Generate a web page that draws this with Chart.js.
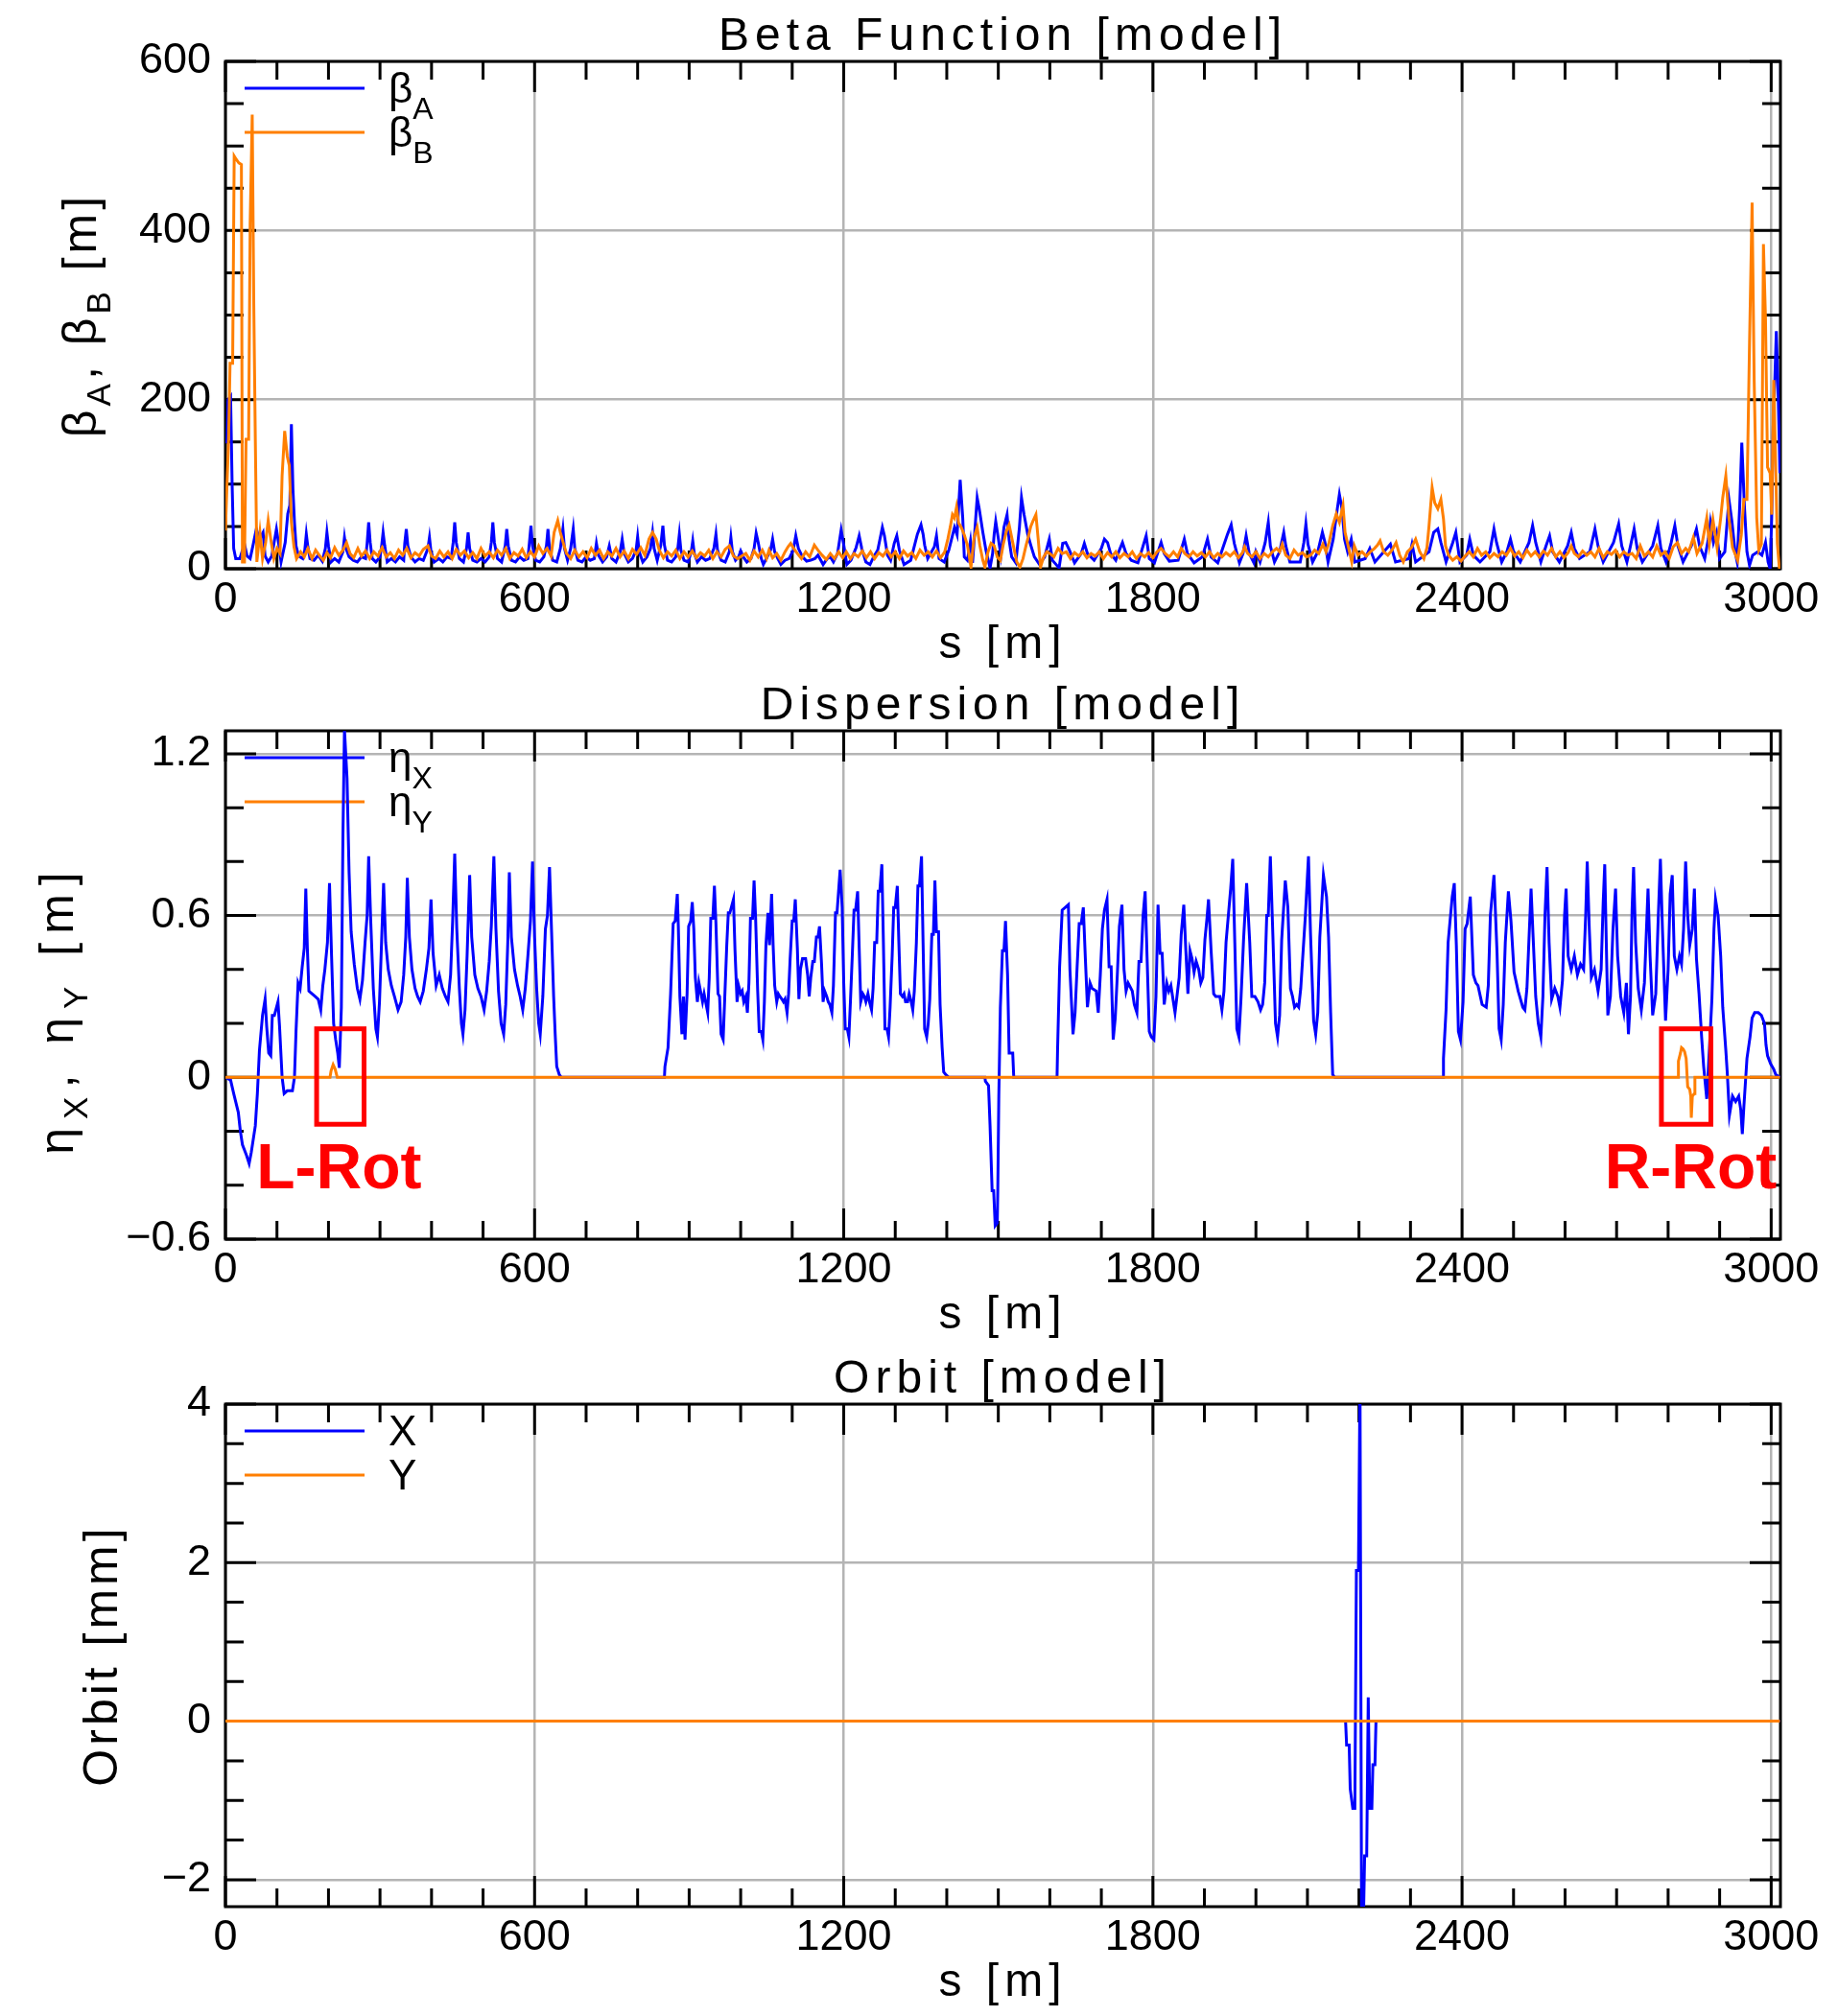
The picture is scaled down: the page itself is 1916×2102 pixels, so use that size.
<!DOCTYPE html>
<html>
<head>
<meta charset="utf-8">
<title>Beta Function / Dispersion / Orbit</title>
<script src="https://cdn.jsdelivr.net/npm/chart.js@4.4.1/dist/chart.umd.min.js"></script>
<style>
  html, body { margin: 0; padding: 0; background: #fff; }
  canvas { display: block; }
</style>
</head>
<body>
<canvas id="beta" width="1916" height="700"></canvas>
<canvas id="disp" width="1916" height="701"></canvas>
<canvas id="orbit" width="1916" height="701"></canvas>
<script>
// ---- axis ticks ----
const S_MAX = 3018;
const sTicks = [0, 600, 1200, 1800, 2400, 3000];
const betaTicks = [0, 200, 400, 600];
const etaTicks = [-0.6, 0, 0.6, 1.2];
const orbitTicks = [-2, 0, 2, 4];

// ---- beta functions [s (m), beta (m)] ----
const betaA = [
  [0,150],[3,150],[5,200],[10,204],[13,100],[16,24],[20,12],[28,12],[32,20],[37,29],[42,15],[48,12],[54,29],[60,47],[66,35],[73,43],[77,15],[83,8],[90,15],[99,47],[104,27],[108,8],[116,31],[121,65],[125,75],[128,171],[131,94],[134,55],[137,27],[142,15],
  [150,12],[154,22],[157,41],[160,26],[164,12],[172,10],[180,16],[188,9],[194,24],[197,43],[200,27],[205,8],[212,12],[220,8],[228,20],[231,37],[234,24],[240,14],[248,10],[256,8],[264,14],[272,12],[275,30],[278,55],[281,31],[285,12],[292,8],[300,14],[303,26],[306,43],[309,28],[314,8],[322,12],[330,8],[338,14],[346,10],[348,30],[351,47],[354,27],[360,14],[368,8],[376,12],[384,10],[393,24],[396,37],[399,20],[405,8],[414,12],[422,8],[430,14],[438,12],[442,31],[445,55],[448,31],[454,12],[462,8],[468,24],[471,43],[474,24],[480,10],[488,8],[496,12],[504,8],[512,14],[516,31],[519,55],[522,31],[528,12],[536,8],[543,27],[546,47],[549,27],[555,10],[563,8],[571,14],[579,10],[587,12],[590,31],[593,51],[596,27],[602,10],[610,8],[618,14],[623,27],[626,47],[629,24],[635,10],[643,8],[650,24],[655,47],[658,24],[664,10],[670,24],[675,47],[678,24],[684,10],[692,8],[700,14],[708,10],[716,12],[720,30],[724,16],[732,8],[740,14],[745,27],[750,12],[758,8],[766,20],[770,35],[774,18],[782,8],[790,12],[797,22],[800,38],[803,20],[810,8],[818,14],[825,24],[829,43],[832,24],[838,10],[845,28],[849,51],[852,28],[858,10],[866,8],[874,14],[878,24],[881,41],[884,22],[890,10],[898,8],[904,20],[907,33],[910,18],[916,8],[924,14],[932,10],[940,12],[948,24],[952,41],[955,22],[962,10],[970,8],[978,20],[981,37],[984,20],[990,10],[996,14],
  [1000,21],[1005,14],[1012,8],[1020,12],[1026,24],[1030,42],[1034,31],[1040,12],[1044,5],[1050,12],[1058,22],[1062,35],[1066,20],[1072,12],[1078,5],[1086,10],[1094,12],[1102,22],[1107,39],[1112,24],[1120,14],[1128,9],[1136,10],[1144,12],[1150,16],[1160,5],[1168,12],[1174,14],[1180,8],[1188,18],[1195,46],[1199,32],[1206,5],[1214,10],[1224,25],[1230,39],[1235,24],[1243,8],[1251,5],[1258,14],[1266,22],[1275,49],[1279,39],[1285,16],[1291,10],[1298,30],[1303,39],[1308,22],[1317,5],[1330,10],[1343,41],[1350,52],[1354,41],[1357,28],[1363,12],[1376,26],[1380,39],[1385,12],[1395,8],[1404,22],[1415,49],[1420,40],[1426,105],[1431,60],[1434,14],[1440,10],[1446,33],[1450,7],[1459,84],[1463,71],[1470,43],[1476,22],[1484,1],[1489,18],[1492,41],[1495,56],[1505,16],[1511,49],[1517,64],[1521,34],[1526,14],[1534,7],[1541,49],[1545,84],[1550,64],[1557,41],[1563,28],[1570,14],[1580,5],[1590,14],[1599,35],[1605,10],[1618,1],[1625,30],[1631,31],[1638,22],[1648,7],[1661,18],[1667,30],[1673,18],[1686,10],[1700,24],[1706,35],[1712,31],[1718,18],[1728,10],[1735,22],[1741,31],[1748,18],[1758,10],[1771,7],[1781,27],[1787,39],[1793,12],[1803,7],[1810,20],[1816,31],[1822,18],[1832,9],[1849,10],[1861,35],[1867,18],[1880,7],[1896,14],[1906,35],[1913,14],[1926,7],[1945,41],[1952,52],[1958,30],[1968,7],[1975,18],[1981,39],[1987,18],[1996,7],
  [2000,20],[2008,8],[2018,31],[2024,55],[2028,27],[2036,8],[2046,20],[2054,43],[2058,27],[2066,8],[2086,8],[2093,31],[2097,53],[2101,29],[2110,8],[2120,20],[2129,43],[2134,31],[2140,8],[2150,35],[2158,71],[2162,88],[2167,71],[2172,35],[2178,20],[2185,35],[2192,8],[2212,12],[2221,24],[2231,8],[2254,24],[2261,29],[2271,8],[2297,12],[2303,29],[2310,8],[2336,20],[2345,43],[2353,47],[2359,31],[2369,8],[2382,31],[2388,43],[2396,8],[2409,16],[2415,35],[2422,16],[2435,8],[2454,20],[2462,47],[2467,31],[2477,8],[2487,20],[2494,35],[2500,20],[2513,8],[2530,31],[2537,51],[2543,31],[2553,8],[2563,27],[2570,39],[2576,20],[2589,8],[2605,27],[2612,43],[2618,24],[2628,12],[2648,20],[2658,47],[2664,27],[2674,8],[2694,31],[2704,53],[2710,27],[2720,8],[2727,27],[2734,47],[2740,24],[2750,8],[2770,27],[2780,51],[2786,24],[2796,8],[2806,31],[2813,51],[2819,27],[2829,8],[2845,27],[2855,47],[2861,27],[2871,12],[2878,35],[2882,55],[2888,31],[2894,43],[2900,12],[2910,20],[2918,82],[2924,55],[2930,20],[2934,8],[2939,75],[2943,149],[2948,75],[2953,20],[2958,4],[2964,16],[2974,20],[2982,16],[2989,31],[2994,8],[2998,0],[3001,60],[3004,170],[3007,221],[3010,281],[3013,221],[3015,170],[3017,113]
];

const betaB = [
  [0,45],[3,100],[6,150],[9,243],[14,243],[17,488],[21,484],[26,480],[31,478],[33,8],[37,8],[40,153],[45,153],[48,408],[52,537],[55,314],[58,153],[61,8],[67,43],[72,12],[78,31],[83,57],[88,35],[94,12],[100,24],[106,18],[110,110],[115,163],[120,133],[124,122],[128,55],[133,26],[138,12],
  [146,20],[153,14],[160,24],[168,12],[175,22],[182,16],[190,10],[197,19],[204,13],[212,25],[220,16],[228,22],[235,31],[242,18],[249,13],[257,24],[264,15],[272,21],[280,12],[288,20],[296,15],[304,25],[312,14],[320,19],[328,12],[336,22],[344,16],[352,24],[360,13],[368,19],[376,15],[384,23],[393,27],[400,15],[408,12],[416,21],[424,14],[432,20],[440,12],[448,23],[456,16],[464,21],[472,13],[480,19],[488,12],[496,24],[504,15],[512,20],[520,13],[528,22],[536,16],[544,24],[552,12],[560,19],[568,15],[576,23],[584,13],[592,20],[600,14],[608,27],[616,18],[624,24],[632,15],[638,43],[645,57],[650,43],[656,30],[662,18],[670,12],[678,22],[686,14],[694,20],[702,13],[710,24],[718,16],[726,22],[734,12],[742,20],[750,15],[758,24],[766,14],[774,21],[782,12],[790,23],[798,17],[806,25],[814,16],[822,35],[829,43],[836,35],[842,22],[850,13],[858,20],[866,15],[874,22],[882,12],[890,20],[898,14],[906,21],[914,13],[922,19],[930,15],[938,22],[946,12],[954,20],[962,14],[970,23],[978,27],[986,15],[994,12],
  [1002,15],[1010,18],[1018,10],[1026,21],[1034,14],[1042,22],[1050,12],[1055,22],[1062,13],[1070,18],[1078,10],[1086,20],[1092,26],[1097,30],[1103,24],[1110,18],[1118,12],[1126,20],[1134,14],[1143,28],[1150,22],[1158,16],[1166,11],[1174,18],[1182,12],[1190,20],[1198,13],[1205,20],[1213,12],[1220,18],[1228,14],[1236,21],[1244,13],[1252,20],[1260,12],[1268,19],[1276,15],[1284,22],[1292,14],[1300,20],[1308,12],[1316,21],[1324,15],[1332,19],[1340,12],[1348,22],[1356,16],[1364,20],[1372,14],[1380,21],[1388,13],[1396,20],[1402,35],[1407,50],[1411,64],[1415,60],[1419,73],[1423,54],[1428,49],[1434,40],[1440,28],[1447,2],[1453,37],[1459,49],[1464,28],[1470,10],[1474,2],[1480,20],[1486,30],[1492,27],[1498,14],[1504,10],[1510,30],[1516,45],[1521,52],[1526,37],[1531,22],[1536,8],[1542,2],[1548,12],[1554,28],[1558,37],[1563,50],[1567,56],[1573,64],[1578,31],[1582,2],[1588,14],[1594,20],[1600,18],[1608,14],[1616,24],[1624,18],[1632,20],[1640,12],[1648,19],[1656,15],[1664,20],[1672,13],[1680,18],[1688,15],[1696,20],[1704,12],[1712,19],[1720,14],[1728,20],[1736,13],[1744,18],[1752,14],[1760,20],[1768,12],[1776,18],[1784,14],[1792,19],[1800,13],[1808,20],[1816,24],[1824,18],[1832,14],[1840,20],[1848,14],[1855,24],[1862,18],[1870,14],[1878,20],[1886,15],[1894,19],[1902,14],[1910,20],[1918,13],[1926,18],[1934,14],[1942,19],[1950,15],[1958,20],[1966,13],[1974,19],[1978,26],[1984,18],[1992,14],
  [2000,20],[2008,12],[2016,18],[2024,14],[2032,20],[2040,24],[2046,20],[2051,29],[2058,16],[2066,12],[2074,22],[2082,16],[2090,19],[2098,14],[2106,16],[2114,22],[2122,18],[2130,29],[2136,20],[2142,31],[2149,51],[2156,65],[2162,55],[2169,75],[2173,43],[2179,27],[2186,8],[2191,27],[2198,16],[2206,20],[2214,15],[2222,20],[2230,24],[2236,28],[2241,33],[2248,20],[2256,16],[2264,22],[2272,31],[2279,16],[2286,8],[2294,20],[2302,25],[2310,35],[2318,20],[2326,12],[2332,25],[2336,51],[2342,96],[2347,78],[2353,71],[2359,82],[2364,59],[2368,27],[2374,16],[2382,10],[2390,14],[2398,9],[2406,15],[2414,20],[2422,14],[2430,24],[2438,16],[2446,20],[2454,13],[2462,18],[2470,14],[2478,20],[2486,16],[2494,24],[2502,15],[2510,20],[2518,13],[2526,22],[2534,15],[2542,20],[2550,14],[2558,21],[2566,16],[2574,24],[2582,14],[2590,20],[2598,13],[2606,19],[2612,27],[2618,18],[2626,14],[2634,21],[2642,16],[2650,20],[2658,14],[2666,24],[2674,13],[2682,20],[2690,17],[2698,22],[2706,14],[2714,20],[2722,16],[2730,18],[2738,12],[2746,27],[2754,15],[2762,20],[2770,14],[2778,27],[2786,16],[2794,20],[2802,12],[2810,26],[2818,31],[2826,18],[2834,24],[2840,20],[2849,37],[2856,18],[2866,30],[2875,60],[2880,29],[2887,58],[2895,25],[2902,60],[2906,84],[2912,110],[2918,60],[2925,25],[2935,10],[2942,40],[2947,82],[2953,82],[2958,267],[2963,433],[2967,223],[2972,60],[2976,22],[2981,29],[2985,384],[2989,295],[2993,120],[2998,113],[3001,64],[3005,223],[3009,113],[3012,30],[3016,0]
];

// ---- dispersion [s (m), eta (m)] ----
const etaX = [
  [0,0],[10,-0.01],[16,-0.06],[25,-0.13],[29,-0.20],[33,-0.25],[41,-0.29],[46,-0.32],[50,-0.28],[58,-0.18],[62,-0.06],[66,0.10],[72,0.23],[77,0.29],[80,0.19],[84,0.09],[88,0.08],[91,0.23],[95,0.23],[102,0.28],[105,0.19],[110,0],[114,-0.06],[120,-0.05],[130,-0.05],[134,0],[137,0.17],[141,0.35],[145,0.33],[149,0.41],[153,0.48],[156,0.70],[159,0.48],[162,0.32],[168,0.31],[174,0.30],[180,0.29],[185,0.25],[189,0.34],[193,0.40],[198,0.50],[202,0.72],[206,0.45],[210,0.20],[214,0.14],[218,0.09],[221,0.035],[225,0.26],[228,0.89],[231,1.29],[236,1.11],[240,0.76],[244,0.54],[250,0.42],[256,0.33],[261,0.29],[266,0.36],[271,0.50],[275,0.60],[278,0.82],[282,0.58],[287,0.33],[292,0.18],[295,0.15],[299,0.28],[303,0.50],[307,0.72],[311,0.50],[316,0.40],[322,0.34],[328,0.30],[335,0.25],[341,0.28],[346,0.38],[350,0.52],[353,0.74],[357,0.52],[362,0.40],[368,0.33],[373,0.30],[378,0.28],[384,0.32],[390,0.40],[395,0.48],[399,0.66],[403,0.46],[409,0.34],[415,0.38],[421,0.33],[427,0.30],[432,0.28],[437,0.38],[441,0.58],[445,0.83],[449,0.55],[454,0.33],[458,0.20],[461,0.16],[465,0.25],[469,0.45],[474,0.75],[478,0.52],[484,0.38],[490,0.33],[496,0.30],[502,0.25],[507,0.32],[512,0.43],[516,0.56],[521,0.82],[525,0.55],[530,0.32],[535,0.20],[540,0.16],[544,0.27],[548,0.50],[551,0.76],[555,0.52],[561,0.40],[567,0.34],[572,0.30],[577,0.25],[582,0.33],[587,0.45],[592,0.58],[596,0.80],[600,0.52],[604,0.33],[608,0.20],[611,0.16],[616,0.30],[621,0.55],[625,0.60],[629,0.78],[633,0.54],[637,0.30],[640,0.16],[643,0.04],[648,0.01],[652,0],
  [852,0],[853,0.04],[859,0.11],[864,0.31],[869,0.57],[873,0.58],[877,0.68],[879,0.56],[882,0.30],[886,0.16],[889,0.30],[892,0.14],[896,0.31],[899,0.56],[903,0.58],[906,0.65],[909,0.55],[912,0.37],[916,0.28],[919,0.35],[922,0.32],[926,0.28],[929,0.31],[932,0.28],[936,0.24],[939,0.37],[942,0.59],[946,0.59],[949,0.71],[952,0.57],[956,0.31],[959,0.30],[962,0.16],[966,0.14],[969,0.29],[973,0.49],[976,0.61],[979,0.61],[986,0.66],[989,0.47],[993,0.28],[996,0.34],[1000,0.31],[1003,0.32],[1006,0.28],[1010,0.30],[1013,0.24],[1016,0.35],[1019,0.59],[1023,0.59],[1026,0.73],[1029,0.59],[1033,0.32],[1036,0.17],[1040,0.17],[1043,0.14],[1046,0.28],[1049,0.49],[1053,0.61],[1056,0.49],[1060,0.68],[1063,0.49],[1066,0.34],[1070,0.28],[1073,0.31],[1076,0.30],[1080,0.29],[1083,0.28],[1086,0.29],[1090,0.24],[1093,0.31],[1096,0.44],[1100,0.58],[1103,0.58],[1106,0.66],[1110,0.48],[1113,0.29],[1116,0.40],[1120,0.44],[1123,0.44],[1126,0.44],[1130,0.38],[1133,0.30],[1136,0.37],[1140,0.43],[1143,0.43],[1147,0.52],[1150,0.52],[1153,0.56],[1157,0.42],[1160,0.28],[1163,0.32],[1167,0.30],[1170,0.28],[1173,0.27],[1177,0.24],[1180,0.34],[1184,0.61],[1187,0.61],[1193,0.77],[1197,0.63],[1200,0.35],[1203,0.18],[1207,0.18],[1210,0.15],[1213,0.28],[1217,0.47],[1220,0.62],[1223,0.62],[1227,0.69],[1230,0.48],[1233,0.28],[1237,0.31],[1240,0.30],[1243,0.28],[1247,0.31],[1250,0.28],[1254,0.25],[1257,0.33],[1260,0.50],[1264,0.50],[1267,0.69],[1270,0.69],[1274,0.79],[1277,0.50],[1280,0.18],[1284,0.18],[1287,0.15],[1290,0.26],[1294,0.45],[1297,0.63],[1300,0.63],[1304,0.71],[1307,0.50],[1310,0.31],[1314,0.30],[1317,0.31],[1320,0.28],[1324,0.28],[1327,0.31],[1331,0.28],[1334,0.25],[1337,0.32],[1341,0.50],[1344,0.71],[1347,0.71],[1351,0.82],[1354,0.50],[1357,0.18],[1361,0.15],[1364,0.20],[1367,0.29],[1371,0.53],[1374,0.53],[1377,0.73],[1380,0.54],[1384,0.54],[1387,0.27],[1391,0.11],[1394,0.02],[1398,0.01],[1404,0],
  [1474,0],[1475,-0.015],[1481,-0.03],[1484,-0.18],[1488,-0.42],[1491,-0.42],[1494,-0.55],[1498,-0.54],[1499,-0.42],[1501,-0.07],[1504,0.26],[1508,0.47],[1511,0.47],[1514,0.58],[1518,0.38],[1521,0.09],[1528,0.09],[1530,0],
  [1614,0],[1615,0.10],[1619,0.41],[1624,0.62],[1630,0.63],[1636,0.64],[1639,0.40],[1645,0.16],[1649,0.24],[1653,0.41],[1657,0.57],[1661,0.57],[1665,0.63],[1669,0.44],[1673,0.26],[1678,0.35],[1682,0.33],[1690,0.32],[1694,0.24],[1698,0.38],[1702,0.55],[1706,0.62],[1711,0.66],[1715,0.41],[1719,0.41],[1723,0.14],[1727,0.22],[1731,0.38],[1735,0.56],[1740,0.64],[1744,0.40],[1748,0.32],[1752,0.35],[1760,0.32],[1764,0.27],[1769,0.24],[1773,0.43],[1777,0.43],[1781,0.60],[1785,0.69],[1789,0.43],[1793,0.17],[1797,0.15],[1802,0.14],[1806,0.30],[1810,0.64],[1814,0.46],[1818,0.46],[1822,0.27],[1827,0.35],[1831,0.32],[1835,0.34],[1843,0.24],[1851,0.37],[1855,0.53],[1860,0.64],[1864,0.47],[1868,0.31],[1872,0.47],[1876,0.44],[1880,0.39],[1884,0.43],[1889,0.40],[1893,0.35],[1897,0.37],[1901,0.51],[1905,0.59],[1908,0.66],[1913,0.47],[1918,0.31],[1922,0.30],[1930,0.30],[1934,0.25],[1938,0.32],[1942,0.50],[1951,0.70],[1955,0.81],[1959,0.50],[1963,0.18],[1967,0.15],[1971,0.29],[1976,0.51],[1982,0.72],[1988,0.50],[1992,0.30],[1998,0.30],[2004,0.28],[2009,0.25],[2013,0.27],[2017,0.35],[2021,0.60],[2024,0.60],[2028,0.82],[2033,0.52],[2038,0.20],[2042,0.15],[2046,0.23],[2050,0.51],[2057,0.73],[2062,0.63],[2067,0.33],[2071,0.30],[2075,0.26],[2079,0.27],[2083,0.26],[2087,0.33],[2096,0.60],[2102,0.82],[2106,0.53],[2112,0.21],[2116,0.16],[2120,0.24],[2124,0.52],[2131,0.75],[2137,0.67],[2141,0.52],[2145,0.24],[2149,0.01],[2153,0],
  [2363,0],[2364,0.07],[2369,0.25],[2373,0.50],[2381,0.67],[2385,0.72],[2389,0.49],[2393,0.17],[2397,0.14],[2402,0.28],[2406,0.55],[2410,0.57],[2416,0.67],[2422,0.38],[2427,0.35],[2431,0.34],[2439,0.27],[2447,0.26],[2451,0.34],[2455,0.60],[2462,0.75],[2468,0.46],[2472,0.18],[2476,0.14],[2480,0.27],[2484,0.50],[2490,0.69],[2495,0.58],[2501,0.39],[2509,0.32],[2518,0.26],[2522,0.25],[2526,0.33],[2534,0.70],[2538,0.52],[2543,0.30],[2548,0.20],[2553,0.15],[2557,0.30],[2561,0.60],[2565,0.78],[2569,0.50],[2574,0.29],[2580,0.33],[2586,0.30],[2590,0.26],[2595,0.36],[2599,0.60],[2602,0.70],[2606,0.45],[2612,0.40],[2618,0.45],[2624,0.38],[2630,0.42],[2636,0.40],[2640,0.60],[2643,0.80],[2647,0.55],[2651,0.37],[2657,0.40],[2664,0.32],[2670,0.40],[2674,0.65],[2677,0.79],[2680,0.50],[2683,0.23],[2688,0.30],[2693,0.55],[2698,0.70],[2702,0.45],[2708,0.30],[2714,0.24],[2719,0.35],[2723,0.16],[2727,0.30],[2730,0.62],[2733,0.78],[2737,0.50],[2742,0.33],[2748,0.25],[2754,0.35],[2758,0.55],[2761,0.70],[2765,0.45],[2770,0.23],[2776,0.31],[2781,0.60],[2785,0.81],[2789,0.55],[2795,0.21],[2800,0.40],[2804,0.68],[2808,0.75],[2812,0.45],[2817,0.40],[2822,0.45],[2826,0.42],[2830,0.55],[2834,0.80],[2838,0.60],[2842,0.49],[2847,0.55],[2851,0.70],[2855,0.44],[2860,0.31],[2865,0.15],[2869,0.04],[2875,-0.08],[2880,0.10],[2885,0.29],[2889,0.55],[2892,0.66],[2897,0.60],[2902,0.45],[2906,0.26],[2912,0.10],[2915,0.01],[2919,-0.14],[2925,-0.07],[2931,-0.09],[2937,-0.07],[2941,-0.12],[2944,-0.21],[2947,-0.11],[2953,0.07],[2959,0.15],[2963,0.22],[2968,0.24],[2975,0.24],[2981,0.23],[2987,0.20],[2990,0.12],[2993,0.08],[2999,0.05],[3005,0.03],[3009,0.01],[3017,0]
];

const etaY = [
  [0,0],[203,0],[205,0.024],[209,0.047],[213,0.03],[217,0],
  [2819,0],[2820,0.06],[2824,0.09],[2826,0.11],[2829,0.105],[2832,0.095],[2835,0.07],[2838,-0.035],[2842,-0.045],[2844,-0.07],[2845,-0.15],[2847,-0.07],[2851,-0.06],[2852,0],[3017,0]
];

// ---- orbit [s (m), orbit (mm)] ----
const orbitX = [
  [0,0],[2174,0],[2176,-0.3],[2181,-0.3],[2183,-0.85],[2188,-1.1],[2192,-1.1],[2195,1.9],[2199,1.9],[2202,4.3],[2205,-2.4],[2209,-2.4],[2211,-1.7],[2215,-1.7],[2218,0.3],[2221,-1.1],[2225,-1.1],[2227,-0.55],[2231,-0.55],[2233,0],[3017,0]
];
const orbitY = [[0,0],[3017,0]];

// ---- styling ----
const BLUE = '#0000ff';
const ORANGE = '#ff7f00';
const GRID = '#b4b4b4';
const FONT = "'Liberation Sans', Arial, sans-serif";

const toPoints = pairs => pairs.map(([x, y]) => ({ x, y }));
const signed = (v, digits) => (v === 0 ? '0' : (v < 0 ? '\u2212' : '') + Math.abs(v).toFixed(digits));

// text with subscripts: parts = [[main, sub], ...]
function richWidth(ctx, parts, size, subSize) {
  let w = 0;
  for (const [main, sub] of parts) {
    ctx.font = `${size}px ${FONT}`;
    w += ctx.measureText(main).width;
    if (sub) { ctx.font = `${subSize}px ${FONT}`; w += ctx.measureText(sub).width; }
  }
  return w;
}
function drawRich(ctx, parts, x, y, size, subSize, subDrop) {
  for (const [main, sub] of parts) {
    ctx.font = `${size}px ${FONT}`;
    ctx.fillText(main, x, y);
    x += ctx.measureText(main).width;
    if (sub) {
      ctx.font = `${subSize}px ${FONT}`;
      ctx.fillText(sub, x, y + subDrop);
      x += ctx.measureText(sub).width;
    }
  }
}

// box with inward major/minor ticks on all four sides (curves go on top)
const framePlugin = {
  id: 'frame',
  beforeDatasetsDraw(chart, _args, o) {
    const { ctx, chartArea: a, scales: { x, y } } = chart;
    const isMajor = (scale, v) => scale.ticks.some(t => Math.abs(t.value - v) < 1e-6);
    const steps = (min, max, step) => {
      const out = [];
      for (let k = Math.ceil(min / step - 1e-9); k * step <= max + 1e-9; k++) out.push(+(k * step).toFixed(6));
      return out;
    };
    ctx.save();
    ctx.strokeStyle = '#000';
    ctx.lineWidth = 3;
    ctx.beginPath();
    steps(x.min, x.max, o.xMinor).forEach(v => {
      const px = x.getPixelForValue(v);
      const len = isMajor(x, v) ? o.major : o.minor;
      ctx.moveTo(px, a.bottom); ctx.lineTo(px, a.bottom - len);
      ctx.moveTo(px, a.top); ctx.lineTo(px, a.top + len);
    });
    steps(y.min, y.max, o.yMinor).forEach(v => {
      const py = y.getPixelForValue(v);
      const len = isMajor(y, v) ? o.major : o.minor;
      ctx.moveTo(a.left, py); ctx.lineTo(a.left + len, py);
      ctx.moveTo(a.right, py); ctx.lineTo(a.right - len, py);
    });
    ctx.stroke();
    ctx.strokeRect(a.left, a.top, a.right - a.left, a.bottom - a.top);
    ctx.restore();
  }
};

// legend drawn inside the top-left corner of the plot
const innerLegend = {
  id: 'innerLegend',
  beforeDatasetsDraw(chart, _args, o) {
    const { ctx, chartArea: a } = chart;
    ctx.save();
    ctx.fillStyle = '#000';
    ctx.textBaseline = 'alphabetic';
    ctx.textAlign = 'left';
    o.items.forEach((item, i) => {
      const ly = a.top + 28 + i * 46;
      ctx.strokeStyle = item.color;
      ctx.lineWidth = 3;
      ctx.beginPath();
      ctx.moveTo(a.left + 20, ly);
      ctx.lineTo(a.left + 145, ly);
      ctx.stroke();
      drawRich(ctx, item.parts, a.left + 170, ly + 15, 44, 32, 17);
    });
    ctx.restore();
  }
};

// panel title, x label and rotated y label
const panelText = {
  id: 'panelText',
  afterDraw(chart, _args, o) {
    const { ctx, chartArea: a } = chart;
    const cx = (a.left + a.right) / 2;
    ctx.save();
    ctx.fillStyle = '#000';
    ctx.textBaseline = 'alphabetic';
    ctx.textAlign = 'left';
    ctx.letterSpacing = '6px';
    let w = richWidth(ctx, [[o.title, '']], 48, 34);
    drawRich(ctx, [[o.title, '']], cx - w / 2, a.top - 12, 48, 34, 0);
    w = richWidth(ctx, [['s [m]', '']], 48, 34);
    drawRich(ctx, [['s [m]', '']], cx - w / 2, a.bottom + 93, 48, 34, 0);
    ctx.letterSpacing = o.yLabelSpacing + 'px';
    w = richWidth(ctx, o.yLabel, 50, 35);
    ctx.translate(o.yLabelX, (a.top + a.bottom) / 2 + o.yLabelShift);
    ctx.rotate(-Math.PI / 2);
    drawRich(ctx, o.yLabel, -w / 2, 0, 50, 35, 15);
    ctx.restore();
  }
};

// boxed regions and their captions, placed in data coordinates
const regionMarks = {
  id: 'regionMarks',
  afterDatasetsDraw(chart, _args, o) {
    if (!o.items) return;
    const { ctx, scales: { x, y } } = chart;
    ctx.save();
    ctx.strokeStyle = o.color;
    ctx.fillStyle = o.color;
    ctx.lineWidth = 5;
    ctx.font = `bold 66px ${FONT}`;
    ctx.textBaseline = 'alphabetic';
    for (const m of o.items) {
      const x0 = x.getPixelForValue(m.s0), x1 = x.getPixelForValue(m.s1);
      const y0 = y.getPixelForValue(m.v1), y1 = y.getPixelForValue(m.v0);
      ctx.strokeRect(x0, y0, x1 - x0, y1 - y0);
      ctx.textAlign = m.align;
      ctx.fillText(m.text, x.getPixelForValue(m.textS), y.getPixelForValue(m.textV));
    }
    ctx.restore();
  }
};

function makePanel(id, p) {
  const canvas = document.getElementById(id);
  const H = canvas.height;
  const tickFont = { family: FONT, size: 45 };
  return new Chart(canvas, {
    type: 'line',
    data: {
      datasets: p.series.map(s => ({
        label: s.label,
        data: toPoints(s.data),
        borderColor: s.color,
        borderWidth: 3,
        pointRadius: 0,
        tension: 0,
        fill: false,
        order: s.order
      }))
    },
    options: {
      responsive: false,
      animation: false,
      devicePixelRatio: 1,
      layout: { padding: { top: p.top, right: 60, bottom: 0, left: 0 } },
      plugins: {
        legend: { display: false },
        title: { display: false },
        tooltip: { enabled: false },
        frame: { xMinor: 100, yMinor: p.yMinor, major: 32, minor: 19 },
        innerLegend: { items: p.legend },
        panelText: { title: p.title, yLabel: p.yLabel, yLabelX: p.yLabelX, yLabelShift: p.yLabelShift || 0, yLabelSpacing: p.yLabelSpacing },
        regionMarks: { items: p.marks, color: '#ff0000' }
      },
      scales: {
        x: {
          type: 'linear', min: 0, max: S_MAX, bounds: 'data',
          afterBuildTicks: sc => { sc.ticks = sTicks.map(v => ({ value: v })); },
          afterFit: sc => { sc.height = H - p.bottom; },
          grid: { color: GRID, lineWidth: 2.5, drawTicks: false },
          border: { display: false },
          ticks: { color: '#000', font: tickFont, padding: 6, maxRotation: 0, autoSkip: false, callback: v => String(v) }
        },
        y: {
          type: 'linear', min: p.yMin, max: p.yMax, bounds: 'data',
          afterBuildTicks: sc => { sc.ticks = p.yTicks.map(v => ({ value: v })); },
          afterFit: sc => { sc.width = 235; },
          grid: { color: GRID, lineWidth: 2.5, drawTicks: false },
          border: { display: false },
          ticks: { color: '#000', font: tickFont, padding: 15, autoSkip: false, callback: p.fmt }
        }
      }
    },
    plugins: [framePlugin, innerLegend, regionMarks, panelText]
  });
}

makePanel('beta', {
  top: 64, bottom: 593, yMin: 0, yMax: 600, yTicks: betaTicks, yMinor: 50,
  fmt: v => String(v),
  title: 'Beta Function [model]',
  yLabel: [['\u03B2', 'A'], [', \u03B2', 'B'], [' [m]', '']], yLabelX: 100, yLabelSpacing: 4,
  legend: [{ color: BLUE, parts: [['\u03B2', 'A']] }, { color: ORANGE, parts: [['\u03B2', 'B']] }],
  series: [
    { label: 'beta_a', data: betaA, color: BLUE, order: 2 },
    { label: 'beta_b', data: betaB, color: ORANGE, order: 1 }
  ]
});

makePanel('disp', {
  top: 62, bottom: 592, yMin: -0.6, yMax: 1.285, yTicks: etaTicks, yMinor: 0.2,
  fmt: v => signed(v, 1),
  title: 'Dispersion [model]',
  yLabel: [['\u03B7', 'X'], [', \u03B7', 'Y'], [' [m]', '']], yLabelX: 76, yLabelShift: 25, yLabelSpacing: 9,
  legend: [{ color: BLUE, parts: [['\u03B7', 'X']] }, { color: ORANGE, parts: [['\u03B7', 'Y']] }],
  series: [
    { label: 'eta_x', data: etaX, color: BLUE, order: 2 },
    { label: 'eta_y', data: etaY, color: ORANGE, order: 1 }
  ],
  marks: [
    { s0: 177, s1: 269, v0: -0.174, v1: 0.18, text: 'L-Rot', textS: 60, textV: -0.41, align: 'left' },
    { s0: 2787, s1: 2883, v0: -0.174, v1: 0.18, text: 'R-Rot', textS: 3011, textV: -0.41, align: 'right' }
  ]
});

makePanel('orbit', {
  top: 63, bottom: 587, yMin: -2.34, yMax: 4, yTicks: orbitTicks, yMinor: 0.5,
  fmt: v => signed(v, 0),
  title: 'Orbit [model]',
  yLabel: [['Orbit [mm]', '']], yLabelX: 122, yLabelSpacing: 4,
  legend: [{ color: BLUE, parts: [['X', '']] }, { color: ORANGE, parts: [['Y', '']] }],
  series: [
    { label: 'orbit_x', data: orbitX, color: BLUE, order: 2 },
    { label: 'orbit_y', data: orbitY, color: ORANGE, order: 1 }
  ]
});
</script>
</body>
</html>
